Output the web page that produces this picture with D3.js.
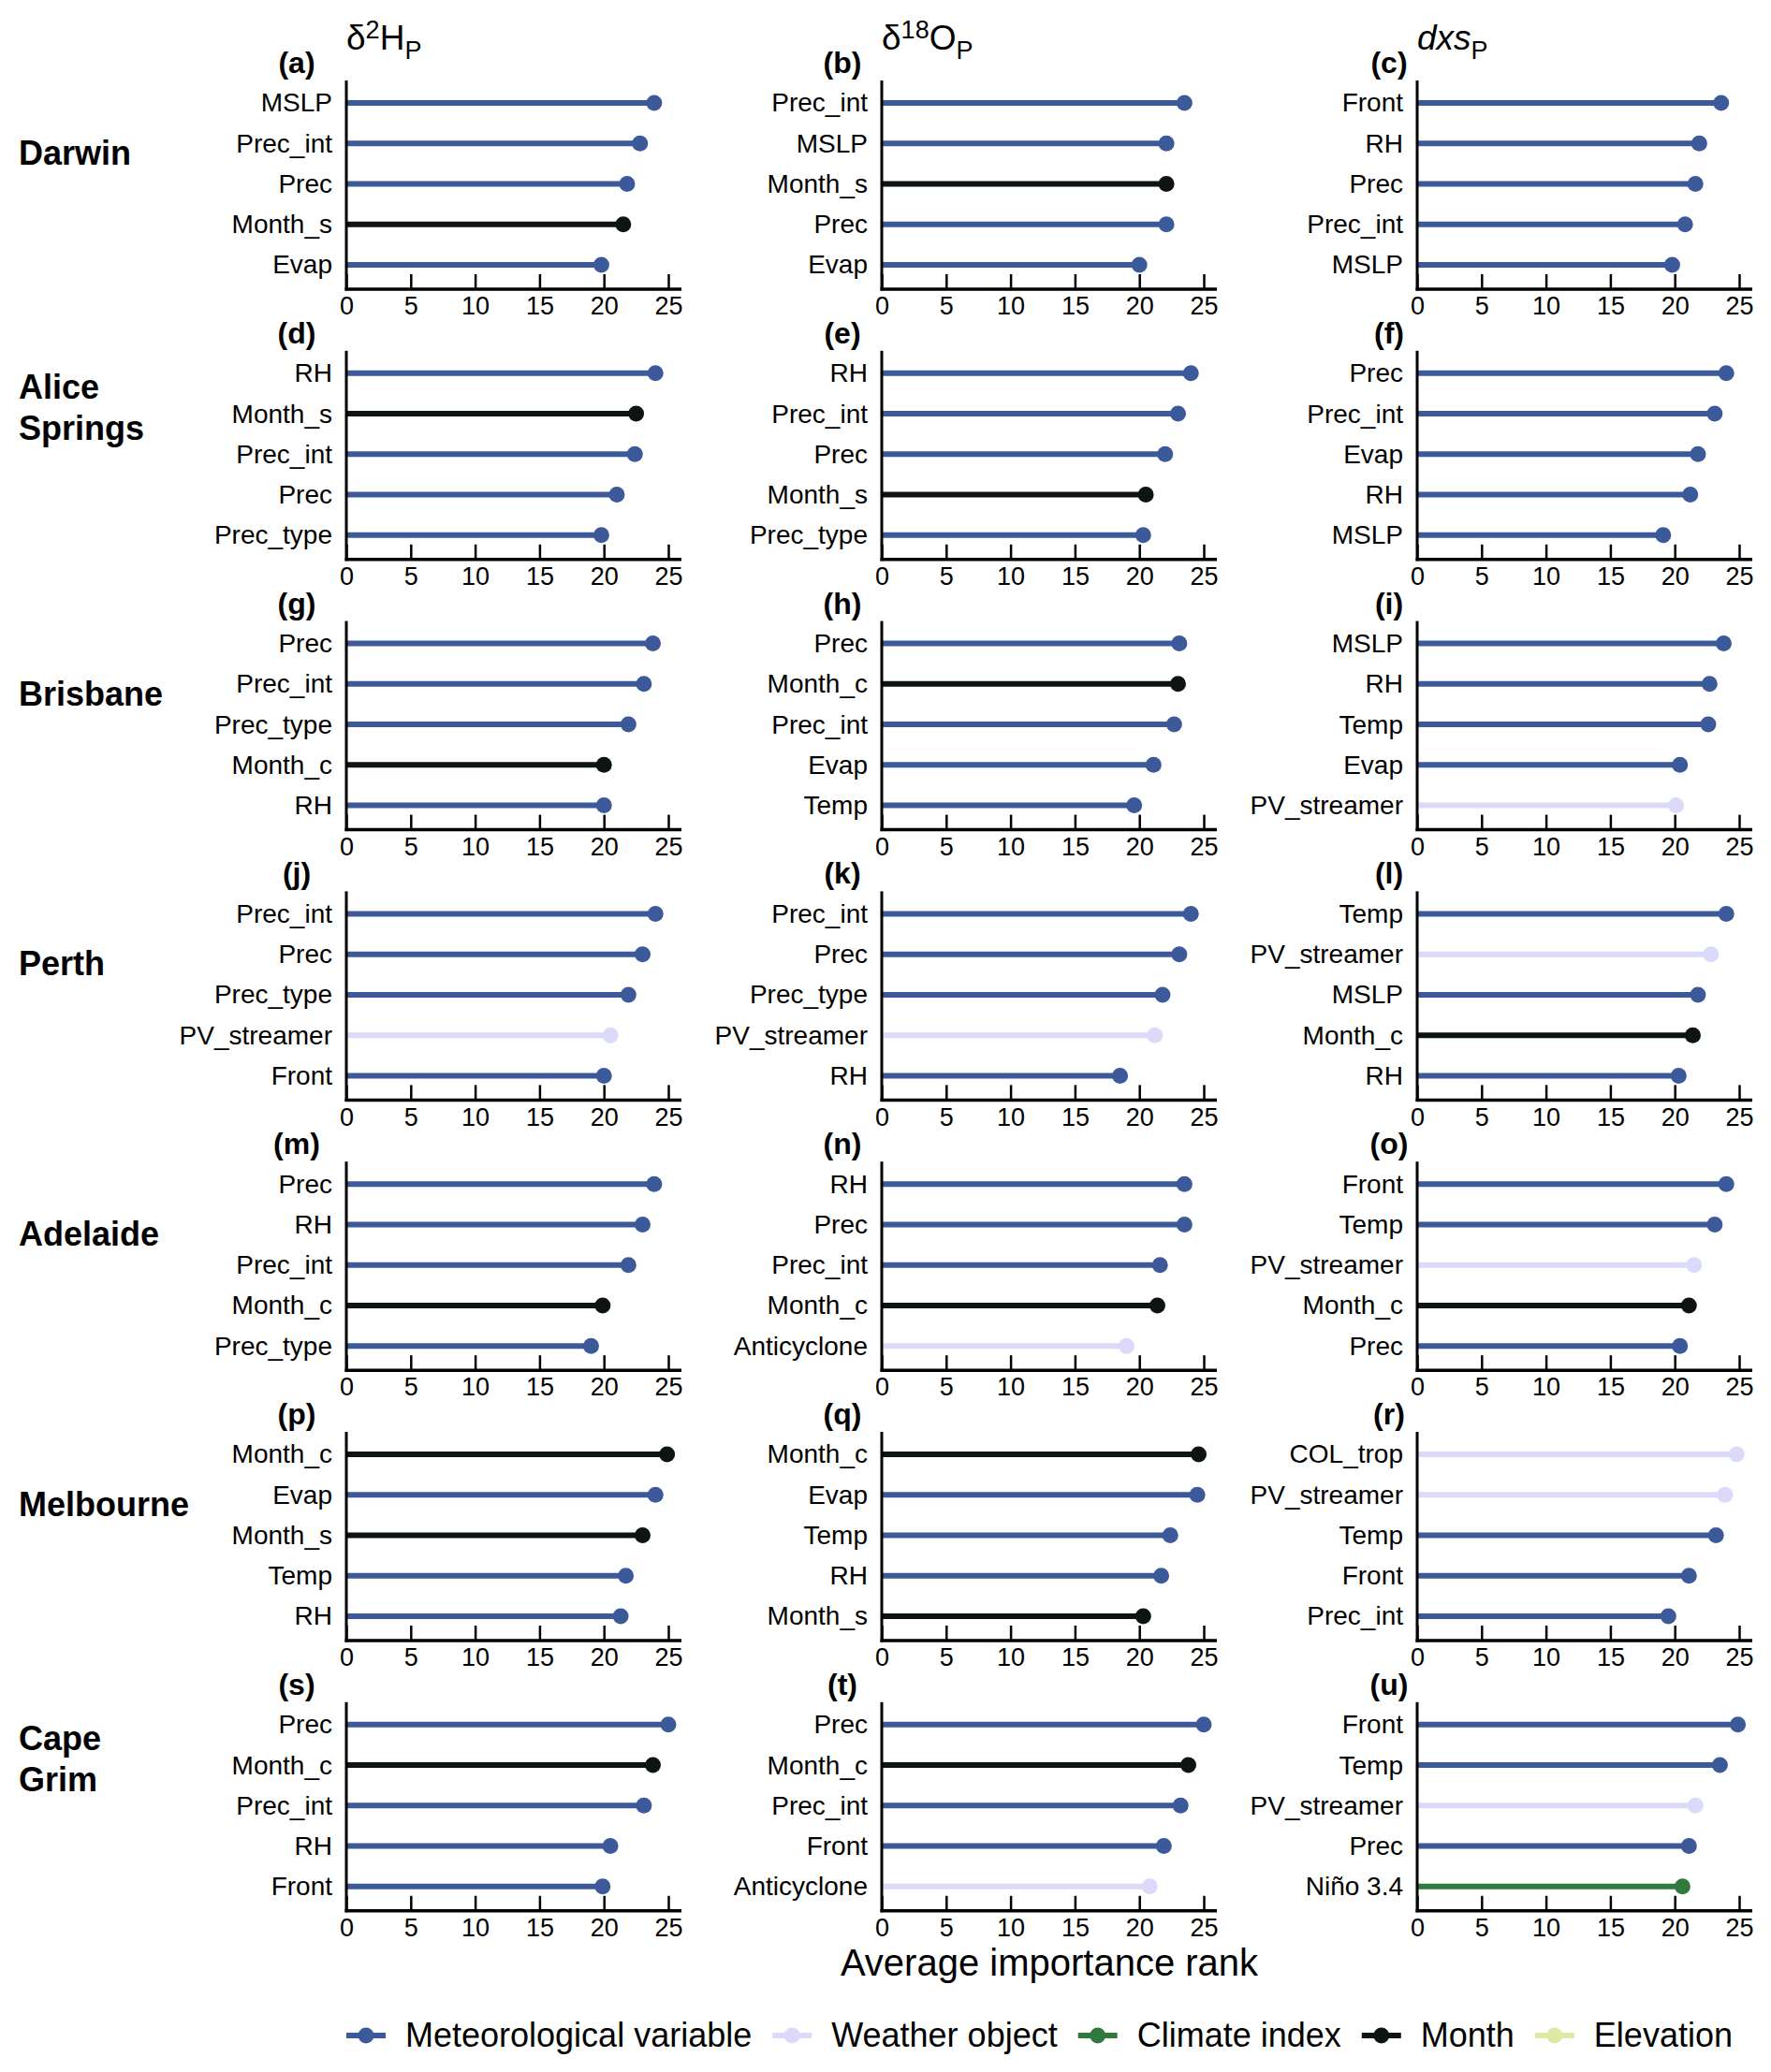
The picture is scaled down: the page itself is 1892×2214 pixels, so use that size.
<!DOCTYPE html>
<html>
<head>
<meta charset="utf-8">
<script src="https://cdn.jsdelivr.net/npm/d3@7"></script>
<style>
  body { margin: 0; background: #fff; }
  text { font-family: "Liberation Sans", Arial, Helvetica, sans-serif; fill: #000; }
</style>
</head>
<body>
<div id="vis"></div>
<script>
const w = 1892;
const h = 2214;

const stations = [["Darwin"], ["Alice", "Springs"], ["Brisbane"], ["Perth"], ["Adelaide"], ["Melbourne"], ["Cape", "Grim"]];
const panelLetters = "abcdefghijklmnopqrstu".split("");
const tickValues = [0, 5, 10, 15, 20, 25];
const categories = ["Meteorological variable", "Weather object", "Climate index", "Month", "Elevation"];
const categoryColors = ["#3c5a9a", "#dcdafa", "#2f7a3c", "#0e1511", "#dfe8a5"];

const weatherObjects = ["PV_streamer", "Anticyclone", "COL_trop"];
const monthFeatures = ["Month_s", "Month_c"];
const climateIndices = ["Niño 3.4"];
const elevationFeatures = ["Elevation"];

// top five predictors of each panel, a..u (row by row)
const panelFeatures = [
    ["MSLP", "Prec_int", "Prec", "Month_s", "Evap"],
    ["Prec_int", "MSLP", "Month_s", "Prec", "Evap"],
    ["Front", "RH", "Prec", "Prec_int", "MSLP"],
    ["RH", "Month_s", "Prec_int", "Prec", "Prec_type"],
    ["RH", "Prec_int", "Prec", "Month_s", "Prec_type"],
    ["Prec", "Prec_int", "Evap", "RH", "MSLP"],
    ["Prec", "Prec_int", "Prec_type", "Month_c", "RH"],
    ["Prec", "Month_c", "Prec_int", "Evap", "Temp"],
    ["MSLP", "RH", "Temp", "Evap", "PV_streamer"],
    ["Prec_int", "Prec", "Prec_type", "PV_streamer", "Front"],
    ["Prec_int", "Prec", "Prec_type", "PV_streamer", "RH"],
    ["Temp", "PV_streamer", "MSLP", "Month_c", "RH"],
    ["Prec", "RH", "Prec_int", "Month_c", "Prec_type"],
    ["RH", "Prec", "Prec_int", "Month_c", "Anticyclone"],
    ["Front", "Temp", "PV_streamer", "Month_c", "Prec"],
    ["Month_c", "Evap", "Month_s", "Temp", "RH"],
    ["Month_c", "Evap", "Temp", "RH", "Month_s"],
    ["COL_trop", "PV_streamer", "Temp", "Front", "Prec_int"],
    ["Prec", "Month_c", "Prec_int", "RH", "Front"],
    ["Prec", "Month_c", "Prec_int", "Front", "Anticyclone"],
    ["Front", "Temp", "PV_streamer", "Prec", "Niño 3.4"]
];

const panelRanks = [
    [23.9, 22.8, 21.8, 21.5, 19.8],
    [23.5, 22.1, 22.1, 22.1, 20.0],
    [23.6, 21.9, 21.6, 20.8, 19.8],
    [24.0, 22.5, 22.4, 21.0, 19.8],
    [24.0, 23.0, 22.0, 20.5, 20.3],
    [24.0, 23.1, 21.8, 21.2, 19.1],
    [23.8, 23.1, 21.9, 20.0, 20.0],
    [23.1, 23.0, 22.7, 21.1, 19.6],
    [23.8, 22.7, 22.6, 20.4, 20.1],
    [24.0, 23.0, 21.9, 20.5, 20.0],
    [24.0, 23.1, 21.8, 21.2, 18.5],
    [24.0, 22.8, 21.8, 21.4, 20.3],
    [23.9, 23.0, 21.9, 19.9, 19.0],
    [23.5, 23.5, 21.6, 21.4, 19.0],
    [24.0, 23.1, 21.5, 21.1, 20.4],
    [24.9, 24.0, 23.0, 21.7, 21.3],
    [24.6, 24.5, 22.4, 21.7, 20.3],
    [24.8, 23.9, 23.2, 21.1, 19.5],
    [25.0, 23.8, 23.1, 20.5, 19.9],
    [25.0, 23.8, 23.2, 21.9, 20.8],
    [24.9, 23.5, 21.6, 21.1, 20.6]
];

function categoryOf(f) {
    if (weatherObjects.includes(f)) return categories[1];
    if (climateIndices.includes(f)) return categories[2];
    if (monthFeatures.includes(f)) return categories[3];
    if (elevationFeatures.includes(f)) return categories[4];
    return categories[0];
}

const color = d3.scaleOrdinal().domain(categories).range(categoryColors);

const colX = [370, 942, 1514];
const plotW = 344;
const firstY = 110;
const rowStep = 288.8;
const itemGap = 43.25;
const letterShift = [-53, -42, -30];

const svg = d3.select('#vis')
    .append('svg')
    .attr('width', w)
    .attr('height', h);

// column titles
const titles = [["δ", "2", "H", "P"], ["δ", "18", "O", "P"], ["dxs", null, null, "P"]];
titles.forEach((t, c) => {
    const txt = svg.append('text')
        .attr('x', colX[c])
        .attr('y', firstY - 57)
        .attr('font-size', '37px');
    if (c < 2) {
        txt.append('tspan').text(t[0]);
        txt.append('tspan').attr('font-size', '27px').attr('dy', -12).text(t[1]);
        txt.append('tspan').attr('dy', 12).text(t[2]);
    } else {
        txt.append('tspan').attr('font-style', 'italic').text(t[0]);
    }
    txt.append('tspan').attr('font-size', '27px').attr('dy', 10).text(t[3]);
});

// station names
stations.forEach((lines, r) => {
    const y0 = firstY + r * rowStep;
    const t = svg.append('text')
        .attr('font-size', '36px')
        .attr('font-weight', 'bold');
    lines.forEach((ln, i) => {
        t.append('tspan')
            .attr('x', 20)
            .attr('y', lines.length === 1 ? y0 + 66 : y0 + 27 + i * 44)
            .text(ln);
    });
});

panelFeatures.forEach((feats, p) => {
    const r = Math.floor(p / 3);
    const c = p % 3;
    const x0 = colX[c];
    const y0 = firstY + r * rowStep;
    const axisY = y0 + 199;
    const ranks = panelRanks[p];
    const data = feats.map((f, i) => ({ feature: f, value: ranks[i] }));

    const xScale = d3.scaleLinear().domain([0, 25]).range([x0, x0 + plotW]);
    const yScale = d3.scalePoint().domain(feats).range([y0, y0 + 4 * itemGap]);

    const g = svg.append('g');

    // panel letter
    g.append('text')
        .attr('x', x0 + letterShift[c])
        .attr('y', y0 - 32)
        .attr('text-anchor', 'middle')
        .attr('font-size', '32px')
        .attr('font-weight', 'bold')
        .text('(' + panelLetters[p] + ')');

    // lollipops
    g.selectAll('line.stem')
        .data(data)
        .join('line')
        .attr('class', 'stem')
        .attr('x1', xScale(0))
        .attr('x2', d => xScale(d.value))
        .attr('y1', d => yScale(d.feature))
        .attr('y2', d => yScale(d.feature))
        .attr('stroke', d => color(categoryOf(d.feature)))
        .attr('stroke-width', 6);

    g.selectAll('circle')
        .data(data)
        .join('circle')
        .attr('cx', d => xScale(d.value))
        .attr('cy', d => yScale(d.feature))
        .attr('r', 8.5)
        .attr('fill', d => color(categoryOf(d.feature)));

    // y axis
    const yAxis = d3.axisLeft(yScale).tickSize(0).tickPadding(15);
    const ya = g.append('g')
        .attr('transform', 'translate(' + x0 + ',0)')
        .call(yAxis);
    ya.select('.domain').remove();
    ya.selectAll('text')
        .attr('font-size', '28px')
        .attr('font-family', '"Liberation Sans", Arial, sans-serif')
        .attr('fill', '#000');

    // x axis
    const xAxis = d3.axisBottom(xScale).tickValues(tickValues).tickSizeInner(-16).tickSizeOuter(0);
    const xa = g.append('g')
        .attr('transform', 'translate(0,' + axisY + ')')
        .call(xAxis);
    xa.select('.domain').remove();
    xa.selectAll('.tick line').attr('stroke', '#000').attr('stroke-width', 2.5);
    xa.selectAll('.tick text')
        .attr('y', 8)
        .attr('dy', '0.71em')
        .attr('font-size', '27px')
        .attr('font-family', '"Liberation Sans", Arial, sans-serif')
        .attr('fill', '#000');

    g.append('line')
        .attr('x1', x0).attr('x2', x0)
        .attr('y1', y0 - 24).attr('y2', axisY + 1.5)
        .attr('stroke', '#000').attr('stroke-width', 3);
    g.append('line')
        .attr('x1', x0 - 1.5).attr('x2', x0 + plotW + 14)
        .attr('y1', axisY).attr('y2', axisY)
        .attr('stroke', '#000').attr('stroke-width', 3.5);
});

// shared x label
svg.append('text')
    .attr('x', 1121)
    .attr('y', 2111)
    .attr('text-anchor', 'middle')
    .attr('font-size', '40px')
    .text('Average importance rank');

// legend
const legY = 2175;
let lx = 370;
categories.forEach((cat, i) => {
    const lg = svg.append('g');
    lg.append('line')
        .attr('x1', lx).attr('x2', lx + 42)
        .attr('y1', legY).attr('y2', legY)
        .attr('stroke', categoryColors[i]).attr('stroke-width', 6);
    lg.append('circle')
        .attr('cx', lx + 21).attr('cy', legY).attr('r', 8.5)
        .attr('fill', categoryColors[i]);
    const t = lg.append('text')
        .attr('x', lx + 63)
        .attr('y', legY + 12)
        .attr('font-size', '36px')
        .text(cat);
    lx += 63 + t.node().getComputedTextLength() + 22;
});
</script>
</body>
</html>
